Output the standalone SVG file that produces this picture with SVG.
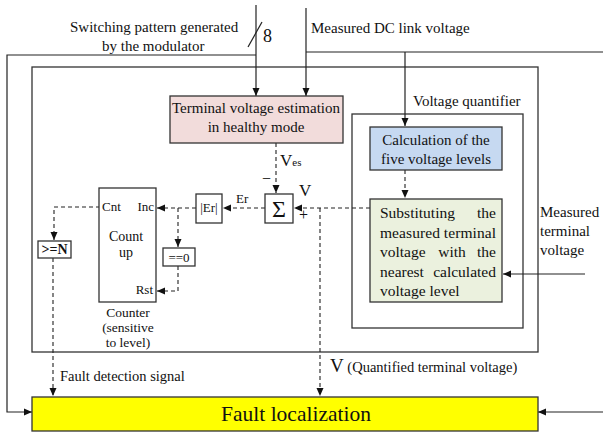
<svg xmlns="http://www.w3.org/2000/svg" width="603" height="435" viewBox="0 0 603 435" font-family="'Liberation Serif', 'DejaVu Serif', serif">
<defs>
<marker id="ah" markerWidth="8" markerHeight="8" refX="8" refY="4" orient="auto" markerUnits="userSpaceOnUse"><path d="M0,0.5 L8,4 L0,7.5 z" fill="#111"/></marker>
<style>
text{font-family:'Liberation Serif','DejaVu Serif',serif;fill:#111;font-size:15px}
.ln{fill:none;stroke:#222;stroke-width:1.2}
.ds{fill:none;stroke:#222;stroke-width:1.1;stroke-dasharray:4,3}
.bx{stroke:#333;stroke-width:1.3}
.c{text-anchor:middle}
.s{font-size:13px}
</style>
</defs>
<rect width="603" height="435" fill="#fff"/>
<g id="frames">
<rect x="32" y="67" width="506" height="285" fill="none" class="bx"/>
<rect x="352" y="114" width="171" height="214" fill="none" class="bx"/>
<text x="413" y="106">Voltage quantifier</text>
</g>
<g id="connectors">
<path class="ln" d="M256,5 V96" marker-end="url(#ah)"/>
<path class="ln" d="M256,55 H7 V412 H32" marker-end="url(#ah)"/>
<path class="ln" d="M248,47 L262,22"/>
<path class="ln" d="M306,8 V96" marker-end="url(#ah)"/>
<path class="ln" d="M306,52 H603"/>
<path class="ln" d="M405,52 V126" marker-end="url(#ah)"/>
<path class="ds" d="M405,170 V198" marker-end="url(#ah)"/>
<path class="ds" d="M276,143 V193" marker-end="url(#ah)"/>
<path class="ds" d="M370,208 H294" marker-end="url(#ah)"/>
<path class="ds" d="M320,208 V396" marker-end="url(#ah)"/>
<path class="ds" d="M265,208 H223" marker-end="url(#ah)"/>
<path class="ds" d="M196,208 H157" marker-end="url(#ah)"/>
<path class="ds" d="M178,208 V247" marker-end="url(#ah)"/>
<path class="ds" d="M178,266 V291 H157" marker-end="url(#ah)"/>
<path class="ds" d="M100,207 H54 V240" marker-end="url(#ah)"/>
<path class="ds" d="M53,258 V396" marker-end="url(#ah)"/>
<path class="ln" d="M585,274 H503" marker-end="url(#ah)"/>
<path class="ln" d="M603,412 H538" marker-end="url(#ah)"/>
</g>
<g id="inputs">
<text x="70" y="32">Switching pattern generated</text>
<text x="102" y="51">by the modulator</text>
<text x="263" y="42" style="font-size:18px">8</text>
<text x="311" y="33">Measured DC link voltage</text>
<text x="540" y="217">Measured</text>
<text x="540" y="236">terminal</text>
<text x="540" y="255">voltage</text>
</g>
<g id="estimation">
<rect x="170" y="96" width="173" height="47" fill="#F2DCDB" class="bx"/>
<text x="256" y="113" class="c">Terminal voltage estimation</text>
<text x="256" y="132" class="c">in healthy mode</text>
</g>
<g id="calc">
<rect x="370" y="127" width="132" height="43" fill="#C6D9F1" class="bx"/>
<text x="436" y="145" class="c">Calculation of the</text>
<text x="436" y="164" class="c">five voltage levels</text>
</g>
<g id="subst" style="font-size:15.5px">
<rect x="370" y="199" width="132" height="103" fill="#EBF1DE" class="bx"/>
<text x="380" y="218" style="font-size:15.5px">Substituting</text><text x="496" y="218" text-anchor="end" style="font-size:15.5px">the</text>
<text x="380" y="237.5" textLength="116" lengthAdjust="spacing" style="font-size:15.5px">measured terminal</text>
<text x="380" y="257" style="font-size:15.5px">voltage</text><text x="452" y="257" class="c" style="font-size:15.5px">with</text><text x="496" y="257" text-anchor="end" style="font-size:15.5px">the</text>
<text x="380" y="276.5" style="font-size:15.5px">nearest</text><text x="496" y="276.5" text-anchor="end" style="font-size:15.5px">calculated</text>
<text x="380" y="296" style="font-size:15.5px">voltage level</text>
</g>
<g id="sum">
<rect x="265" y="194" width="28" height="29" fill="#fff" class="bx"/>
<text x="279" y="217" class="c" style="font-size:24px">Σ</text>
<text x="280" y="166" style="font-size:17px">V<tspan style="font-size:11px">es</tspan></text>
<text x="262" y="184" style="font-size:16px">−</text>
<text x="299" y="196" style="font-size:17px">V</text>
<text x="299" y="220" style="font-size:16px">+</text>
</g>
<g id="abs">
<rect x="196" y="194" width="26" height="29" fill="#fff" class="bx"/>
<text x="209" y="212" class="c" style="font-size:13px">|Er|</text>
<text x="236" y="203" class="s">Er</text>
</g>
<g id="zero">
<rect x="163" y="248" width="32" height="18" fill="#fff" class="bx"/>
<text x="179" y="261.5" class="c s">==0</text>
</g>
<g id="counter">
<rect x="99" y="188" width="57" height="114" fill="#fff" class="bx"/>
<text x="102" y="211" class="s">Cnt</text>
<text x="154" y="211" text-anchor="end" class="s">Inc</text>
<text x="126" y="241" class="c" style="font-size:14px">Count</text>
<text x="126" y="257" class="c" style="font-size:14px">up</text>
<text x="153" y="294" text-anchor="end" class="s">Rst</text>
<text x="128" y="317" class="c" style="font-size:13.5px">Counter</text>
<text x="128" y="332" class="c" style="font-size:13.5px">(sensitive</text>
<text x="128" y="347" class="c" style="font-size:13.5px">to level)</text>
</g>
<g id="geN">
<rect x="38" y="241" width="33" height="17" fill="#fff" class="bx"/>
<text x="54.5" y="254" class="c" style="font-size:14px;font-weight:bold">&gt;=N</text>
</g>
<g id="labels">
<text x="60" y="381" style="font-size:14.5px">Fault detection signal</text>
<text x="330" y="372" style="font-size:19px">V<tspan style="font-size:14.5px"> (Quantified terminal voltage)</tspan></text>
</g>
<g id="fault">
<rect x="32" y="397" width="506" height="34" fill="#FFFF00" class="bx"/>
<text x="296" y="421" class="c" style="font-size:21.5px">Fault localization</text>
</g>
</svg>
